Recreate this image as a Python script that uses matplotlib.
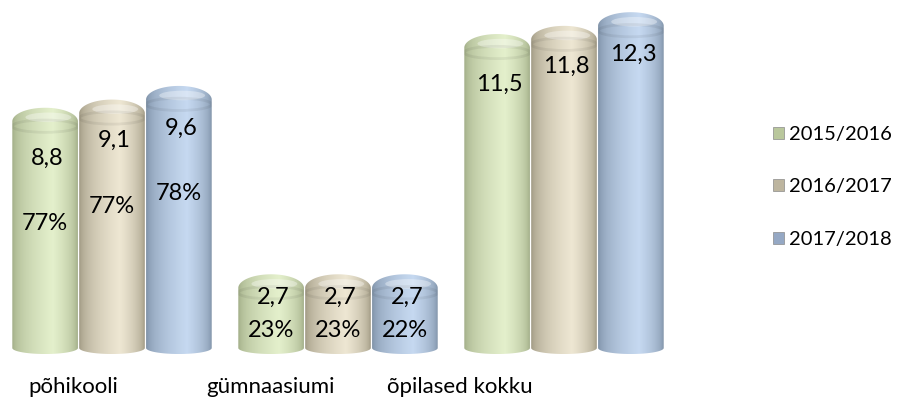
import numpy as np
import matplotlib.pyplot as plt
from matplotlib.path import Path
from matplotlib.patches import PathPatch, Ellipse, Patch
from matplotlib.colors import to_rgb

# andmed
kategooriad = ['põhikooli', 'gümnaasiumi', 'õpilased kokku']
aastad = ['2015/2016', '2016/2017', '2017/2018']
arv_2015 = [8.8, 2.7, 11.5]
arv_2016 = [9.1, 2.7, 11.8]
arv_2017 = [9.6, 2.7, 12.3]
osakaal_2015 = ['77%', '23%', '']
osakaal_2016 = ['77%', '23%', '']
osakaal_2017 = ['78%', '22%', '']

seeriad = [arv_2015, arv_2016, arv_2017]
osakaalud = [osakaal_2015, osakaal_2016, osakaal_2017]

# värvid: (serv, keskel)
varvid = [('#9aa67f', '#e4f0cc'), ('#979079', '#eee7d3'), ('#76899f', '#c6d9f1')]
legend_varvid = ['#b9c79c', '#bdb59f', '#95a8c4']

plt.rcParams['font.family'] = ['Lato', 'DejaVu Sans']

fig = plt.figure(figsize=(9.01, 4.08), dpi=100)
ax = fig.add_axes([0, 0, 1, 1])
ax.axis('off')

x = np.arange(len(kategooriad))
laius = 0.29
nihe = [-0.296, 0.0, 0.296]
kork_top = 0.5
kork_all = 0.22
tekst_nihe = [1.85, 1.5, 1.55]


def profiil(edge, mid, n=120):
    t = np.linspace(0, 1, n)
    p = np.where(t < 0.62, t / 0.62, (1 - t) / 0.38)
    p = np.clip(p, 0, 1) ** 0.45
    e = np.array(to_rgb(edge))
    m = np.array(to_rgb(mid))
    return e[None, :] + (m - e)[None, :] * p[:, None]


def silinder(rect, edge, mid):
    x0 = rect.get_x()
    w = rect.get_width()
    h = rect.get_height()
    cx = x0 + w / 2
    hc = h - kork_top  # kaane keskjoon, kupli tipp = väärtus
    a = np.linspace(np.pi, 0, 60)
    top = np.column_stack([cx + w / 2 * np.cos(a), hc + kork_top * np.sin(a)])
    b = np.linspace(0, -np.pi, 60)
    bot = np.column_stack([cx + w / 2 * np.cos(b), kork_all * np.sin(b)])
    pts = np.vstack([[x0, 0], top, bot, [x0, 0]])
    path = Path(pts)
    clip = PathPatch(path, transform=ax.transData, facecolor='none', edgecolor='none')
    ax.add_patch(clip)
    img = profiil(edge, mid)[None, :, :]
    im = ax.imshow(img, extent=[x0, x0 + w, -kork_all, h],
                   aspect='auto', interpolation='bilinear', zorder=2)
    im.set_clip_path(clip)
    # kaane valgus
    hl = Ellipse((cx + w * 0.05, hc + kork_top * 0.3), w * 0.7, kork_top * 0.7,
                 facecolor='white', alpha=0.35, edgecolor='none', zorder=3)
    ax.add_patch(hl)
    hl.set_clip_path(clip)
    vari = Ellipse((cx, hc - kork_top * 0.35), w * 1.0, kork_top * 0.9,
                   facecolor='none', edgecolor='black', alpha=0.06, lw=2, zorder=3)
    ax.add_patch(vari)
    vari.set_clip_path(clip)


for i, vals in enumerate(seeriad):
    bars = ax.bar(x + nihe[i], vals, width=laius, color='none', edgecolor='none')
    for j, rect in enumerate(bars):
        silinder(rect, *varvid[i])
        cx = rect.get_x() + rect.get_width() / 2
        v = vals[j]
        if v > 5:
            yv = v - tekst_nihe[i]
            yp = yv - 2.4
        else:
            yv = v - 0.83
            yp = yv - 1.24
        ax.text(cx + 0.01, yv, f'{v:.1f}'.replace('.', ','), ha='center', va='center',
                fontsize=17, color='black', zorder=5)
        if osakaalud[i][j]:
            ax.text(cx, yp, osakaalud[i][j], ha='center', va='center',
                    fontsize=17, color='black', zorder=5)

# kategooriate nimed (perspektiivi tõttu nihutatud)
silt_x = [-0.17, 0.70, 1.54]
for k, nimi in enumerate(kategooriad):
    ax.text(silt_x[k], -1.42, nimi, ha='center', va='center', fontsize=16, color='black')

handles = [Patch(facecolor=c, edgecolor='#8a8a8a', linewidth=0.5) for c in legend_varvid]
fig.legend(handles, aastad, loc='center left', bbox_to_anchor=(773 / 901, 1 - 187 / 408),
           frameon=False, fontsize=14.5, handlelength=0.55, handleheight=0.55,
           handletextpad=0.25, labelspacing=1.75, borderpad=0, borderaxespad=0)

ax.set_xlim(-112 / 226, (901 - 112) / 226)
ax.set_ylim(-60 / 27.3, 348 / 27.3)

fig.savefig('out.png', dpi=100)
